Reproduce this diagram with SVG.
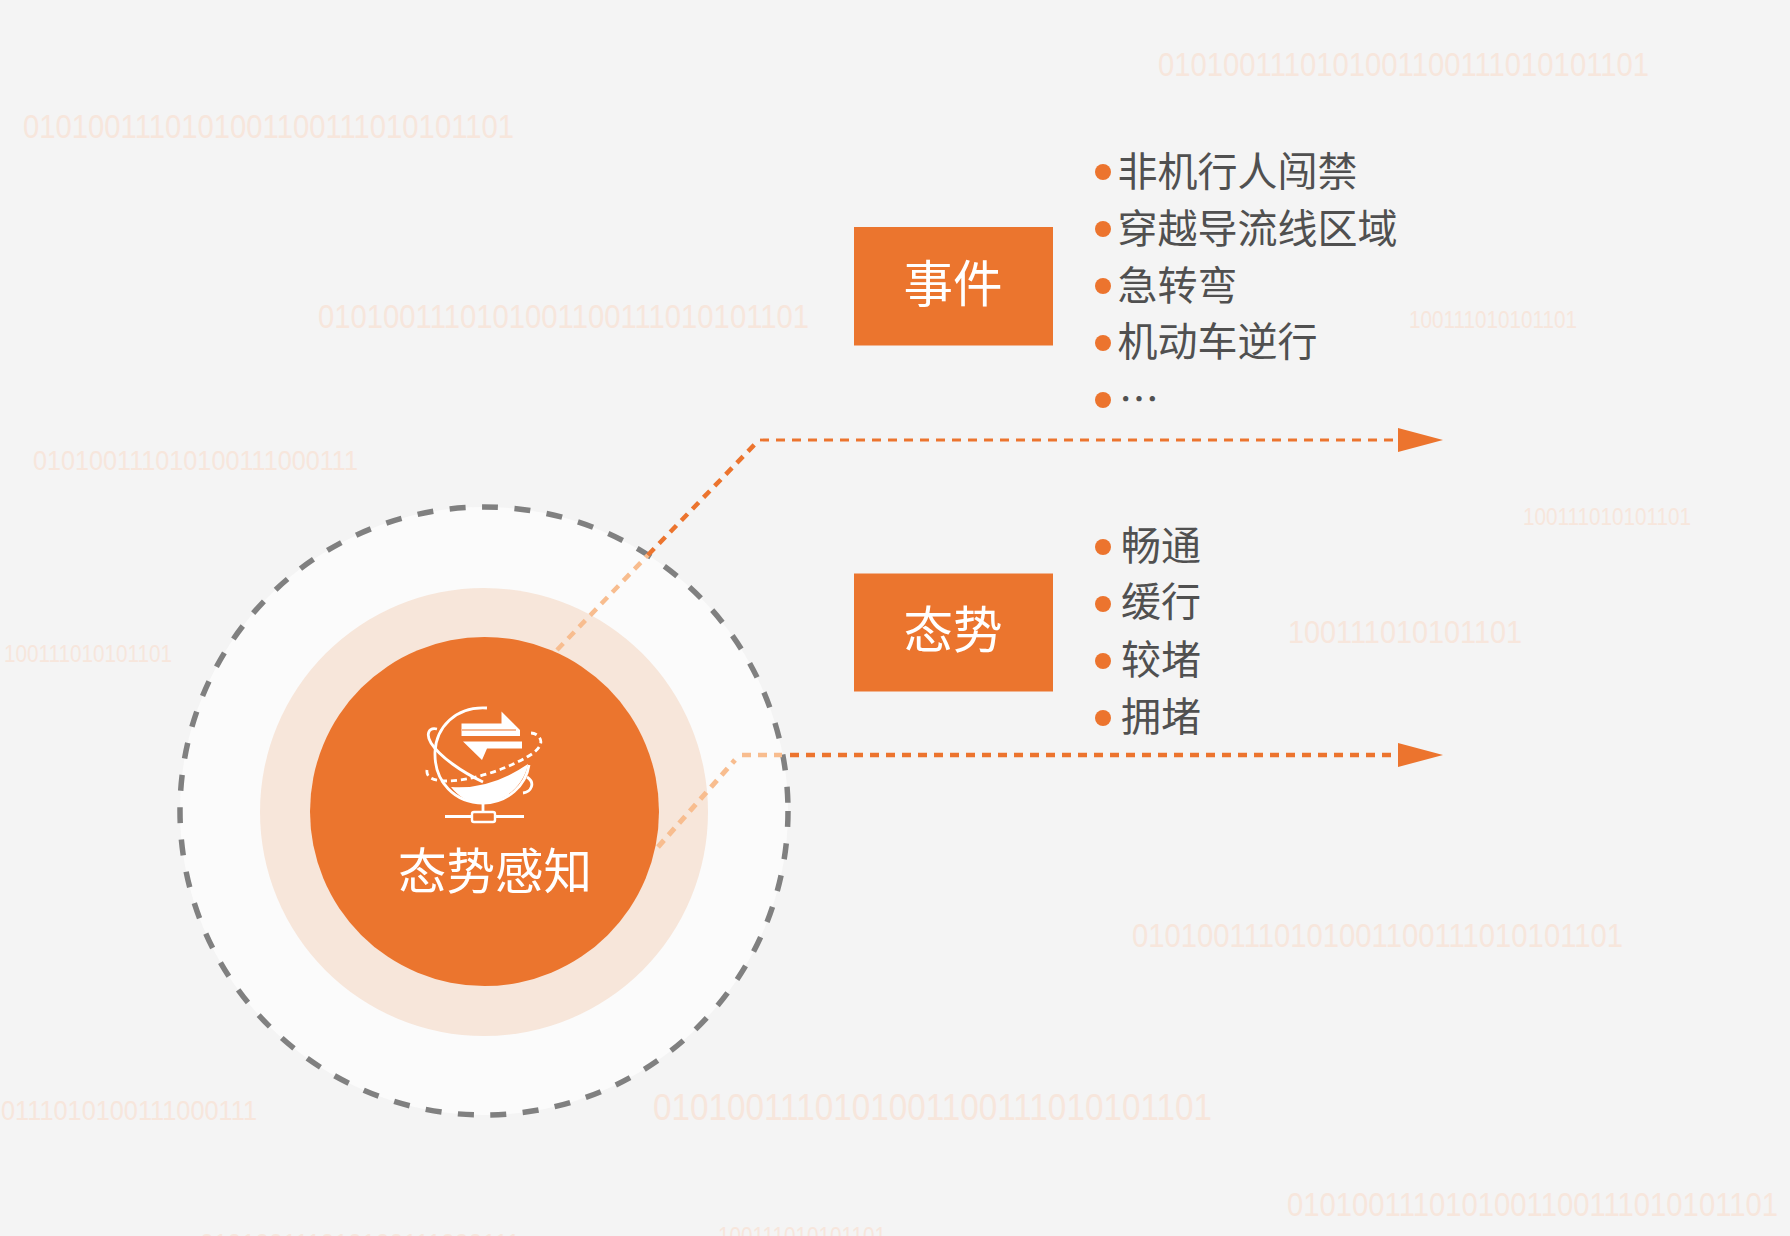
<svg xmlns="http://www.w3.org/2000/svg" width="1790" height="1236" viewBox="0 0 1790 1236">
<style>
.bg{font-family:"Liberation Sans",Arial,sans-serif;fill:#f7e6dc;}
.item{font-family:"Noto Sans CJK SC","Noto Sans",sans-serif;font-size:40px;fill:#505050;}
.head{font-family:"Noto Sans CJK SC","Noto Sans",sans-serif;fill:#fff;font-weight:400;text-anchor:middle;}
.dot{fill:#ec742e;}
.box{fill:#eb752e;}
.ln{fill:none;stroke-dasharray:9 7;}
.ic{fill:none;stroke:#fff;stroke-width:2.8;}
</style>
<rect width="1790" height="1236" fill="#f4f4f4"/>
<g id="background-digits" class="bg">
<text x="1158" y="76" font-size="33" textLength="491" lengthAdjust="spacingAndGlyphs">0101001110101001100111010101101</text>
<text x="23" y="138" font-size="33" textLength="491" lengthAdjust="spacingAndGlyphs">0101001110101001100111010101101</text>
<text x="318" y="328" font-size="33" textLength="491" lengthAdjust="spacingAndGlyphs">0101001110101001100111010101101</text>
<text x="33" y="470" font-size="28" textLength="325" lengthAdjust="spacingAndGlyphs">010100111010100111000111</text>
<text x="1409" y="328" font-size="23" textLength="168" lengthAdjust="spacingAndGlyphs">100111010101101</text>
<text x="1523" y="525" font-size="23" textLength="168" lengthAdjust="spacingAndGlyphs">100111010101101</text>
<text x="4" y="662" font-size="23" textLength="168" lengthAdjust="spacingAndGlyphs">100111010101101</text>
<text x="1288" y="643" font-size="32" textLength="234" lengthAdjust="spacingAndGlyphs">100111010101101</text>
<text x="1132" y="947" font-size="33" textLength="491" lengthAdjust="spacingAndGlyphs">0101001110101001100111010101101</text>
<text x="653" y="1120" font-size="37" textLength="559" lengthAdjust="spacingAndGlyphs">0101001110101001100111010101101</text>
<text x="1" y="1120" font-size="28" textLength="256" lengthAdjust="spacingAndGlyphs">0111010100111000111</text>
<text x="1287" y="1216" font-size="33" textLength="491" lengthAdjust="spacingAndGlyphs">0101001110101001100111010101101</text>
<text x="718" y="1244" font-size="23" textLength="168" lengthAdjust="spacingAndGlyphs">100111010101101</text>
<text x="200" y="1253" font-size="28" textLength="320" lengthAdjust="spacingAndGlyphs">010100111010100111000111</text>
</g>
<g id="situation-awareness">
<circle cx="484" cy="811" r="304" fill="#fbfbfb" stroke="#808080" stroke-width="5.500" stroke-dasharray="16 16.500"/>
<circle cx="484" cy="812" r="224" fill="#f7e6da"/>
<circle cx="484.500" cy="811.500" r="174.500" fill="#eb752e"/>
<g id="globe-icon">
<path class="ic" d="M487 708C455 706 436 728 435 752C434 782 455 803 483 803C508 803 526 785 529 765"/>
<path d="M451 787Q490 790 528 764C524 785 505 803 482 803C468 803 458 796 451 787Z" fill="#fff"/>
<path class="ic" d="M437 729C428 727 426 735 431 743C440 757 462 772 483 782M527 777C536 783 531 792 523 793"/>
<path class="ic" stroke-dasharray="6 4" d="M427 770C426 777 432 781 447 781C470 781 505 770 527 757C540 750 545 741 537 735C534 733 532 733 530 733"/>
<path fill="#fff" d="M461.500 723.500H501.500V711.500L520 730V736H461.500Z"/>
<path fill="none" stroke="#eb752e" stroke-width="1.200" d="M462 730H516"/>
<path fill="#fff" d="M463 741.500H522V748.500H487L482 760Z"/>
<path class="ic" d="M483 803V813M445 816.500H524"/>
<rect x="472" y="812" width="23" height="10" rx="2" fill="#eb752e" stroke="#fff" stroke-width="2.400"/>
</g>
<text class="head" font-size="48.500" x="495" y="889">态势感知</text>
</g>
<g id="connectors">
<path class="ln" stroke="#f8bd8f" stroke-width="4.500" d="M557 650L648 555"/>
<path class="ln" stroke="#ec742e" stroke-width="4.500" d="M648 555L758 441"/>
<path class="ln" stroke="#ec742e" stroke-width="2.800" d="M760 440H1398"/>
<path class="ln" stroke="#f8bd8f" stroke-width="5" d="M658 847L735 760"/>
<path class="ln" stroke="#f8bd8f" stroke-width="4.500" d="M742 755H782"/>
<path class="ln" stroke="#ec742e" stroke-width="4.500" d="M790 755H1398"/>
<polygon fill="#ec742e" points="1398,428 1443,440 1398,452"/>
<polygon fill="#ec742e" points="1398,743 1443,755 1398,767"/>
</g>
<g id="event">
<rect class="box" x="854" y="227" width="199" height="118.500"/>
<text class="head" font-size="49.500" x="953" y="302">事件</text>
<circle class="dot" cx="1103" cy="172" r="8"/><text class="item" x="1117.500" y="186">非机行人闯禁</text>
<circle class="dot" cx="1103" cy="229" r="8"/><text class="item" x="1117.500" y="243">穿越导流线区域</text>
<circle class="dot" cx="1103" cy="286" r="8"/><text class="item" x="1117.500" y="300">急转弯</text>
<circle class="dot" cx="1103" cy="343" r="8"/><text class="item" x="1117.500" y="356">机动车逆行</text>
<circle class="dot" cx="1103" cy="400" r="8"/><text class="item" x="1119" y="414" font-size="30">…</text>
</g>
<g id="situation">
<rect class="box" x="854" y="573.500" width="199" height="118"/>
<text class="head" font-size="49.500" x="953" y="648">态势</text>
<circle class="dot" cx="1103" cy="547" r="8"/><text class="item" x="1121" y="560">畅通</text>
<circle class="dot" cx="1103" cy="604" r="8"/><text class="item" x="1121" y="616">缓行</text>
<circle class="dot" cx="1103" cy="661" r="8"/><text class="item" x="1121" y="674">较堵</text>
<circle class="dot" cx="1103" cy="718" r="8"/><text class="item" x="1121" y="731">拥堵</text>
</g>
</svg>
